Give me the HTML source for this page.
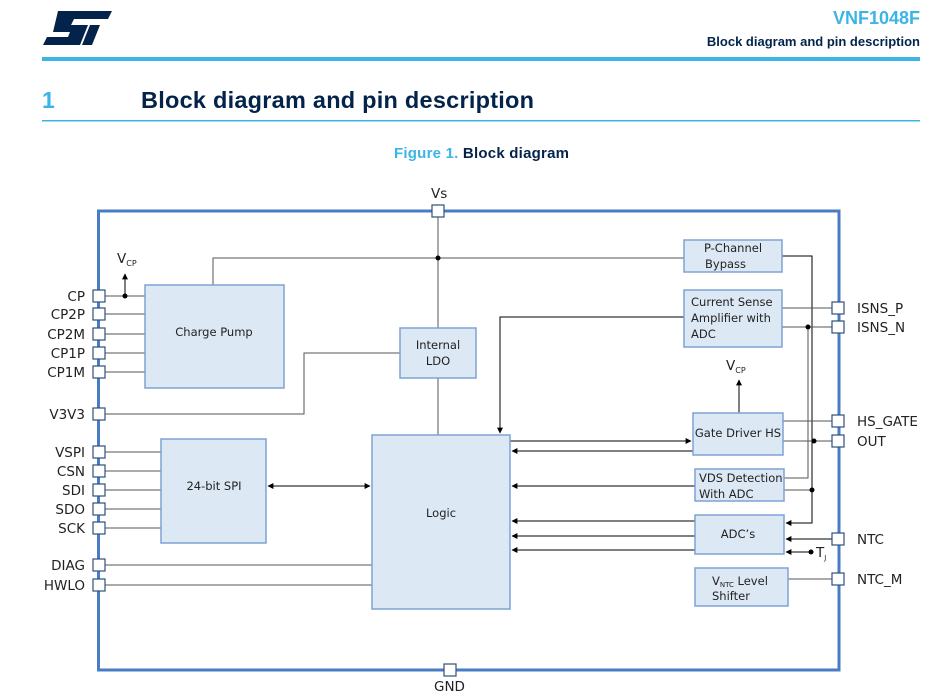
<!DOCTYPE html>
<html><head><meta charset="utf-8"><style>
html,body{margin:0;padding:0;background:#fff;}
svg{display:block;font-family:"Liberation Sans",sans-serif;}
.c{font-family:"DejaVu Sans","Liberation Sans",sans-serif;}
</style></head><body>
<svg width="945" height="697" viewBox="0 0 945 697" xmlns="http://www.w3.org/2000/svg">
<defs><marker id="a" viewBox="0 0 10 10" refX="9" refY="5" markerWidth="6" markerHeight="6" orient="auto-start-reverse"><path d="M0,0L10,5L0,10z" fill="#000"/></marker></defs>
<g fill="#03234b">
<polygon points="58,11 112,11 108,19 74,19 71,25 88,25 80,45 43,45 47,37 68,37 70,32 53,32"/>
<polygon points="90,25 100,25 92,45 82,45"/>
</g>
<text x="920" y="24" text-anchor="end" font-size="18" font-weight="bold" fill="#3cb4e6">VNF1048F</text>
<text x="920" y="46" text-anchor="end" font-size="13" font-weight="bold" fill="#03234b">Block diagram and pin description</text>
<rect x="42" y="57" width="878" height="4" fill="#3cb4e6"/>
<text x="42" y="108" font-size="23" font-weight="bold" fill="#3cb4e6">1</text>
<text x="141" y="108" font-size="23.5" font-weight="bold" fill="#03234b" textLength="393">Block diagram and pin description</text>
<rect x="42" y="120" width="878" height="1.5" fill="#3cb4e6"/>
<text x="394" y="158" font-size="15" font-weight="bold" fill="#3cb4e6" textLength="175">Figure 1. <tspan fill="#03234b">Block diagram</tspan></text>

<rect x="98.5" y="211" width="740.5" height="459" fill="none" stroke="#4a7cc6" stroke-width="3"/>

<g stroke="#555" stroke-width="1" fill="none">
<line x1="105" y1="296" x2="145" y2="296"/><line x1="105" y1="314" x2="145" y2="314"/><line x1="105" y1="334" x2="145" y2="334"/><line x1="105" y1="353" x2="145" y2="353"/><line x1="105" y1="372" x2="145" y2="372"/>
<polyline points="105,414 304,414 304,353 400,353"/>
<line x1="105" y1="452" x2="161" y2="452"/><line x1="105" y1="471" x2="161" y2="471"/><line x1="105" y1="490" x2="161" y2="490"/><line x1="105" y1="509" x2="161" y2="509"/><line x1="105" y1="528" x2="161" y2="528"/>
<line x1="105" y1="565" x2="372" y2="565"/><line x1="105" y1="585" x2="372" y2="585"/>
<line x1="125" y1="296" x2="125" y2="274" stroke="#000" marker-end="url(#a)"/>
<polyline points="213,285 213,258 684,258"/>
<line x1="438" y1="217" x2="438" y2="328"/>
<line x1="438" y1="378" x2="438" y2="435"/>
<line x1="268" y1="486" x2="370" y2="486" stroke="#000" marker-start="url(#a)" marker-end="url(#a)"/>
<polyline points="782,256 812,256 812,523 786,523" marker-end="url(#a)" stroke="#000"/>
<line x1="782" y1="308" x2="832" y2="308"/>
<line x1="782" y1="327" x2="832" y2="327"/>
<polyline points="808,327 808,478 784,478"/>
<polyline points="684,317 500,317 500,433" stroke="#000" marker-end="url(#a)"/>
<line x1="739" y1="413" x2="739" y2="380" stroke="#000" marker-end="url(#a)"/>
<line x1="783" y1="421" x2="832" y2="421"/>
<line x1="783" y1="441" x2="832" y2="441"/>
<line x1="510" y1="441" x2="691" y2="441" stroke="#000" marker-end="url(#a)"/>
<line x1="693" y1="451" x2="512" y2="451" stroke="#000" marker-end="url(#a)"/>
<line x1="695" y1="486" x2="512" y2="486" stroke="#000" marker-end="url(#a)"/>
<line x1="784" y1="490" x2="812" y2="490"/>
<line x1="695" y1="521" x2="512" y2="521" stroke="#000" marker-end="url(#a)"/>
<line x1="695" y1="536" x2="512" y2="536" stroke="#000" marker-end="url(#a)"/>
<line x1="695" y1="550" x2="512" y2="550" stroke="#000" marker-end="url(#a)"/>
<line x1="832" y1="539" x2="786" y2="539" stroke="#000" marker-end="url(#a)"/>
<line x1="811" y1="552" x2="786" y2="552" stroke="#000" marker-end="url(#a)"/>
<line x1="788" y1="579" x2="832" y2="579"/>
</g>
<g fill="#000">
<circle cx="125" cy="296" r="2.5"/><circle cx="438" cy="258" r="2.5"/><circle cx="808" cy="327" r="2.5"/><circle cx="814" cy="441" r="2.5"/><circle cx="812" cy="490" r="2.5"/><circle cx="811" cy="552" r="2.5"/>
</g>

<g fill="#dde8f5" stroke="#7ea2d3" stroke-width="1.5">
<rect x="145" y="285" width="139" height="103"/>
<rect x="400" y="328" width="76" height="50"/>
<rect x="161" y="439" width="105" height="104"/>
<rect x="372" y="435" width="138" height="174"/>
<rect x="684" y="240" width="98" height="32"/>
<rect x="684" y="290" width="98" height="57"/>
<rect x="693" y="413" width="90" height="42"/>
<rect x="695" y="469" width="89" height="32"/>
<rect x="695" y="515" width="89" height="39"/>
<rect x="695" y="568" width="93" height="38"/>
</g>

<g fill="#fff" stroke="#2f4f7a" stroke-width="1.2">
<rect x="93" y="290" width="12" height="12"/><rect x="93" y="308" width="12" height="12"/><rect x="93" y="328" width="12" height="12"/><rect x="93" y="347" width="12" height="12"/><rect x="93" y="366" width="12" height="12"/>
<rect x="93" y="408" width="12" height="12"/>
<rect x="93" y="446" width="12" height="12"/><rect x="93" y="465" width="12" height="12"/><rect x="93" y="484" width="12" height="12"/><rect x="93" y="503" width="12" height="12"/><rect x="93" y="522" width="12" height="12"/>
<rect x="93" y="559" width="12" height="12"/><rect x="93" y="579" width="12" height="12"/>
<rect x="432" y="205" width="12" height="12"/><rect x="444" y="664" width="12" height="12"/>
<rect x="832" y="302" width="12" height="12"/><rect x="832" y="321" width="12" height="12"/><rect x="832" y="415" width="12" height="12"/><rect x="832" y="435" width="12" height="12"/><rect x="832" y="533" width="12" height="12"/><rect x="832" y="573" width="12" height="12"/>
</g>

<g class="c" font-size="13.5" fill="#222" text-anchor="end">
<text x="85" y="301">CP</text><text x="85" y="319">CP2P</text><text x="85" y="339">CP2M</text><text x="85" y="358">CP1P</text><text x="85" y="377">CP1M</text>
<text x="85" y="419">V3V3</text>
<text x="85" y="457">VSPI</text><text x="85" y="476">CSN</text><text x="85" y="495">SDI</text><text x="85" y="514">SDO</text><text x="85" y="533">SCK</text>
<text x="85" y="570">DIAG</text><text x="85" y="590">HWLO</text>
</g>
<g class="c" font-size="13.5" fill="#222">
<text x="857" y="313">ISNS_P</text><text x="857" y="332">ISNS_N</text><text x="857" y="426">HS_GATE</text><text x="857" y="446">OUT</text><text x="857" y="544">NTC</text><text x="857" y="584">NTC_M</text>
<text x="431" y="198">Vs</text><text x="434" y="691">GND</text>
<text x="117" y="263">V<tspan font-size="8" dy="3">CP</tspan></text>
<text x="726" y="370">V<tspan font-size="8" dy="3">CP</tspan></text>
<text x="816" y="557">T<tspan font-size="7" dy="3">J</tspan></text>
</g>
<g class="c" font-size="11.5" fill="#222">
<text x="214" y="336" text-anchor="middle">Charge Pump</text>
<text x="438" y="349" text-anchor="middle">Internal</text><text x="438" y="365" text-anchor="middle">LDO</text>
<text x="214" y="490" text-anchor="middle">24-bit SPI</text>
<text x="441" y="517" text-anchor="middle">Logic</text>
<text x="733" y="252" text-anchor="middle">P-Channel</text><text x="705" y="268">Bypass</text>
<text x="691" y="306">Current Sense</text><text x="691" y="322">Amplifier with</text><text x="691" y="338">ADC</text>
<text x="738" y="437" text-anchor="middle">Gate Driver HS</text>
<text x="699" y="482">VDS Detection</text><text x="699" y="498">With ADC</text>
<text x="738" y="538" text-anchor="middle">ADC’s</text>
<text x="712" y="585">V<tspan font-size="7" dy="2">NTC</tspan><tspan dy="-2"> Level</tspan></text><text x="712" y="600">Shifter</text>
</g>
</svg>
</body></html>
